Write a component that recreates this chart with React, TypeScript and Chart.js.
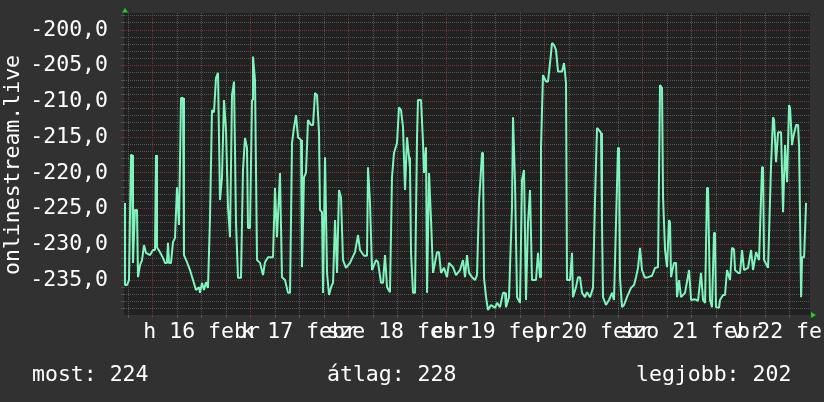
import React, { useEffect, useRef } from "react";
import { Chart, registerables } from "chart.js";

Chart.register(...registerables);

// ---------- data ----------
const SERIES_NAME = "onlinestream.live";
const DAY_LABELS = ["h 16 febr", "k 17 febr", "sze 18 febr", "cs 19 febr", "p 20 febr", "szo 21 febr", "v 22 febr"];
// hours relative to 16 Feb 00:00
const HOURS = [
  -7.0, -6.76, -6.27, -5.78, -5.29, -5.04, -4.8, -4.31, -3.82, -3.57,
  -3.08, -2.59, -2.1, -1.61, -0.63, 0.1, 0.59, 0.84, 1.08, 1.82,
  2.55, 3.04, 3.53, 3.77, 4.02, 4.51, 5.0, 5.49, 5.98, 6.22,
  6.47, 6.96, 7.45, 7.69, 8.43, 9.16, 9.9, 10.63, 11.37, 11.61,
  12.1, 12.59, 13.08, 13.57, 14.06, 14.55, 15.04, 15.53, 16.02, 16.51,
  17.0, 17.49, 17.98, 18.47, 18.96, 19.45, 19.94, 20.43, 20.92, 21.65,
  22.14, 22.63, 23.12, 23.37, 23.86, 24.35, 24.59, 25.08, 25.57, 26.31,
  27.04, 27.53, 28.27, 29.49, 29.98, 30.47, 31.2, 31.69, 32.43, 33.17,
  33.66, 34.15, 34.64, 35.13, 35.62, 36.35, 36.59, 37.08, 37.57, 38.06,
  38.8, 39.29, 39.78, 40.27, 40.76, 41.0, 41.49, 41.74, 42.23, 42.72,
  43.21, 43.7, 44.19, 44.68, 45.17, 45.65, 46.14, 46.63, 47.37, 48.35,
  49.57, 50.31, 50.8, 51.78, 52.51, 52.76, 53.25, 53.74, 54.72, 55.21,
  55.94, 56.43, 56.92, 57.41, 58.14, 58.63, 59.12, 59.86, 60.35, 60.84,
  61.33, 61.82, 62.31, 62.8, 63.04, 63.29, 63.78, 64.27, 64.76, 65.0,
  65.74, 66.23, 66.47, 66.96, 67.21, 67.7, 68.19, 68.68, 69.66, 70.14,
  70.63, 71.37, 72.1, 72.59, 73.57, 74.31, 75.29, 76.02, 76.51, 77.0,
  77.49, 78.23, 78.96, 79.45, 79.94, 80.68, 80.92, 81.17, 81.66, 82.14,
  82.88, 83.86, 84.35, 85.08, 85.82, 86.31, 86.55, 87.29, 88.02, 88.27,
  88.51, 88.76, 89.25, 89.98, 90.47, 90.96, 91.45, 91.94, 92.43, 92.67,
  92.92, 93.9, 94.39, 94.88, 95.12, 95.61, 96.35, 96.84, 97.33, 97.82,
  98.31, 98.8, 99.29, 100.27, 100.76, 101.25, 101.49, 102.23, 102.72, 102.96,
  103.7, 104.19, 104.68, 105.17, 105.9, 106.39, 107.13, 107.86, 108.35, 108.84,
  109.33, 109.82, 110.06, 110.31, 111.04, 111.78, 112.51, 113.0, 113.49, 113.98,
  114.23, 114.47, 114.96, 115.45, 116.18, 117.16, 117.9, 118.39, 118.88, 119.37,
  119.61, 119.86, 120.59, 121.33, 122.31, 123.04, 123.78, 124.27, 124.76, 125.01,
  125.5, 125.99, 126.48, 126.72, 126.97, 127.7, 128.19, 128.44, 128.93, 129.42,
  130.4, 131.38, 131.87, 132.84, 133.58, 134.31, 134.81, 135.3, 135.78, 136.03,
  136.51, 137.0, 137.49, 137.74, 137.98, 138.72, 138.96, 139.7, 140.19, 140.68,
  141.41, 141.9, 142.39, 142.64, 143.38, 143.87, 144.36, 144.85, 145.83, 146.57,
  147.05, 147.79, 148.52, 149.25, 149.5, 149.75, 150.73, 151.46, 151.95, 152.2,
  152.69, 153.18, 153.91, 154.4, 154.89, 155.38, 155.87, 156.12, 156.61, 156.85,
  157.59, 158.08, 158.33, 158.82, 159.06, 159.55, 160.04,
];
const VALUES = [
  -224.2, -235.7, -235.7, -235.0, -217.5, -217.5, -232.6, -225.2, -225.2, -234.6,
  -232.9, -232.2, -230.1, -231.2, -231.5, -230.8, -230.8, -217.5, -230.4, -231.1,
  -231.9, -232.6, -232.6, -229.8, -232.6, -232.6, -229.7, -229.1, -222.0, -222.0,
  -227.3, -209.5, -209.5, -231.5, -232.5, -233.6, -235.0, -236.4, -236.0, -236.8,
  -235.4, -236.4, -235.3, -236.1, -226.3, -211.2, -211.5, -206.7, -206.0, -223.8,
  -220.6, -209.8, -214.0, -224.8, -229.0, -209.1, -207.2, -227.0, -234.7, -234.7,
  -219.6, -215.1, -216.5, -227.7, -227.7, -209.8, -203.7, -207.0, -232.2, -232.6,
  -234.3, -232.5, -231.8, -231.8, -222.1, -229.0, -220.0, -234.6, -235.0, -236.8,
  -236.8, -215.8, -213.6, -211.9, -215.0, -215.4, -233.2, -220.6, -220.0, -212.6,
  -213.3, -213.3, -208.8, -209.1, -214.4, -225.2, -225.5, -236.8, -217.8, -234.0,
  -237.1, -236.0, -235.4, -226.6, -234.0, -222.4, -223.4, -232.2, -233.3, -232.6,
  -231.1, -228.7, -230.8, -231.6, -231.6, -219.2, -224.2, -233.6, -232.2, -232.5,
  -235.4, -235.4, -231.5, -236.0, -236.7, -220.6, -217.2, -215.8, -210.8, -211.2,
  -213.6, -222.4, -215.0, -217.8, -219.3, -231.2, -236.8, -236.8, -215.0, -209.8,
  -209.8, -215.8, -220.0, -216.4, -236.8, -220.0, -226.6, -234.0, -231.1, -231.1,
  -234.0, -233.3, -234.6, -232.6, -233.2, -234.3, -233.6, -232.2, -234.6, -231.5,
  -234.0, -234.6, -235.0, -234.3, -224.2, -217.2, -217.2, -234.7, -237.4, -239.2,
  -238.5, -238.9, -238.2, -238.8, -236.8, -236.8, -238.8, -237.4, -224.8, -212.2,
  -212.2, -221.4, -237.4, -238.2, -221.0, -219.6, -237.8, -227.0, -222.4, -222.4,
  -235.0, -235.0, -231.2, -234.6, -216.4, -206.3, -207.2, -207.2, -204.6, -201.8,
  -202.1, -202.8, -205.8, -205.8, -204.6, -207.4, -235.0, -235.0, -231.2, -237.4,
  -236.0, -234.6, -234.6, -236.8, -237.4, -236.7, -237.4, -236.1, -223.8, -213.7,
  -214.0, -214.4, -227.0, -237.4, -238.5, -237.8, -236.8, -237.8, -227.0, -216.5,
  -216.5, -234.7, -238.8, -238.5, -237.4, -236.1, -235.7, -234.6, -233.3, -230.5,
  -230.5, -233.6, -234.7, -234.6, -234.4, -233.3, -233.2, -207.7, -208.1, -223.4,
  -230.8, -233.2, -226.6, -226.9, -234.6, -232.6, -232.6, -237.4, -235.0, -237.4,
  -236.8, -233.6, -237.8, -237.7, -237.9, -234.0, -237.8, -238.2, -222.1, -222.1,
  -237.8, -238.8, -228.4, -228.4, -238.8, -238.9, -237.8, -237.1, -237.1, -233.6,
  -235.0, -230.5, -230.7, -233.6, -234.0, -234.0, -230.8, -233.6, -233.3, -230.8,
  -233.6, -231.1, -232.2, -219.2, -219.2, -232.2, -233.3, -218.9, -212.2, -212.6,
  -218.5, -214.3, -214.3, -225.5, -216.1, -221.3, -210.5, -210.9, -216.1, -215.1,
  -213.3, -213.3, -216.4, -237.4, -231.8, -231.8, -224.2,
];
const LEGEND_LABELS = ["most", "átlag", "legjobb"];
const LEGEND_VALUES = [224, 228, 202];

const X_MIN = -7;
const X_MAX = 161;
const Y_MIN = -239.9;
const Y_MAX = -197.6;

// ---------- style ----------
const OUTER_BG = "#313131";
const PLOT_BG = "#212121";
const GRID_MINOR = "#565656";
const GRID_MAJOR = "#7a3636";
const LINE_COLOR = "#7ff5bd";
const ARROW_COLOR = "#1ed21e";
const TEXT_COLOR = "#ffffff";
const FONT = '"DejaVu Sans Mono", monospace';

const zeroPadding = (s: any) => {
  s.paddingTop = 0;
  s.paddingBottom = 0;
  s.paddingLeft = 0;
  s.paddingRight = 0;
};

const decorPlugin = {
  id: "decor",
  beforeDraw(chart: any) {
    const { ctx, chartArea: a, width, height } = chart;
    ctx.save();
    ctx.fillStyle = OUTER_BG;
    ctx.fillRect(0, 0, width, height);
    ctx.fillStyle = PLOT_BG;
    ctx.fillRect(a.left, a.top, a.right - a.left, a.bottom - a.top);
    ctx.restore();
  },
  afterDraw(chart: any) {
    const { ctx, chartArea: a } = chart;
    ctx.save();
    ctx.fillStyle = ARROW_COLOR;
    ctx.beginPath();
    ctx.moveTo(a.left - 2, a.top - 0.5);
    ctx.lineTo(a.left + 4, a.top - 0.5);
    ctx.lineTo(a.left + 1, a.top - 5);
    ctx.closePath();
    ctx.fill();
    ctx.beginPath();
    ctx.moveTo(a.right + 1, a.bottom - 3);
    ctx.lineTo(a.right + 1, a.bottom + 3);
    ctx.lineTo(a.right + 6, a.bottom);
    ctx.closePath();
    ctx.fill();

    ctx.fillStyle = TEXT_COLOR;
    ctx.font = `21.5px ${FONT}`;
    ctx.textAlign = "center";
    ctx.textBaseline = "alphabetic";
    ctx.translate(18.5, 165);
    ctx.rotate(-Math.PI / 2);
    ctx.fillText(SERIES_NAME, 0, 0);
    ctx.restore();

    ctx.save();
    ctx.fillStyle = TEXT_COLOR;
    ctx.font = `21.5px ${FONT}`;
    ctx.textAlign = "left";
    ctx.textBaseline = "alphabetic";
    const xs = [32, 327, 636];
    LEGEND_LABELS.forEach((l, i) => {
      ctx.fillText(`${l}: ${LEGEND_VALUES[i]}`, xs[i], 381);
    });
    ctx.restore();
  },
};

export default function App() {
  const ref = useRef<HTMLCanvasElement | null>(null);

  useEffect(() => {
    document.body.style.margin = "0";
    document.body.style.background = OUTER_BG;
    const canvas = ref.current;
    if (!canvas) return;
    const data = HOURS.map((h, i) => ({ x: h, y: VALUES[i] }));
    const chart = new Chart(canvas, {
      type: "line",
      data: {
        datasets: [
          {
            label: SERIES_NAME,
            data,
            borderColor: LINE_COLOR,
            borderWidth: 2,
            pointRadius: 0,
            tension: 0,
            fill: false,
            borderJoinStyle: "bevel",
          },
        ],
      },
      options: {
        responsive: false,
        maintainAspectRatio: false,
        animation: false,
        devicePixelRatio: 1,
        layout: { padding: { top: 13, right: 14, left: 0, bottom: 0 } },
        plugins: { legend: { display: false }, tooltip: { enabled: false } },
        scales: {
          x: {
            type: "linear",
            min: X_MIN,
            max: X_MAX,
            afterFit: (s: any) => {
              s.height = 87;
              zeroPadding(s);
            },
            afterBuildTicks: (s: any) => {
              const t: any[] = [{ value: X_MIN }];
              for (let v = -6; v <= 156; v += 6) t.push({ value: v });
              t.push({ value: X_MAX });
              s.ticks = t;
            },
            grid: {
              color: (c: any) => {
                const v = c.tick ? c.tick.value : 1;
                if (v % 6 !== 0) return "rgba(0,0,0,0)";
                return v % 24 === 0 ? GRID_MAJOR : GRID_MINOR;
              },
              lineWidth: 1,
              drawTicks: true,
              tickLength: 3,
            },
            border: { display: false, dash: [1, 1] },
            ticks: {
              autoSkip: false,
              maxRotation: 0,
              minRotation: 0,
              padding: 2,
              color: TEXT_COLOR,
              font: { family: FONT, size: 21.5 },
              callback: (v: any) => {
                const n = Number(v);
                const m = ((n % 24) + 24) % 24;
                if (m === 12) return DAY_LABELS[Math.floor(n / 24)] ?? "";
                return "";
              },
            },
          },
          y: {
            type: "linear",
            min: Y_MIN,
            max: Y_MAX,
            afterFit: (s: any) => {
              s.width = 124;
              zeroPadding(s);
            },
            afterBuildTicks: (s: any) => {
              const t: any[] = [];
              for (let v = -239; v <= -198; v++) t.push({ value: v });
              s.ticks = t;
            },
            grid: {
              color: (c: any) => {
                const v = c.tick ? c.tick.value : 1;
                return v % 5 === 0 ? GRID_MAJOR : GRID_MINOR;
              },
              lineWidth: 1,
              drawTicks: true,
              tickLength: 3,
            },
            border: { display: false, dash: [1, 1] },
            ticks: {
              autoSkip: false,
              padding: 13,
              color: TEXT_COLOR,
              font: { family: FONT, size: 21.5 },
              callback: (v: any) => {
                const n = Number(v);
                return n % 5 === 0 ? n.toFixed(1).replace(".", ",") : "";
              },
            },
          },
        },
      },
      plugins: [decorPlugin],
    } as any);
    return () => chart.destroy();
  }, []);

  return (
    <div style={{ width: 824, height: 402, background: OUTER_BG }}>
      <canvas ref={ref} width={824} height={402} style={{ display: "block" }} />
    </div>
  );
}
